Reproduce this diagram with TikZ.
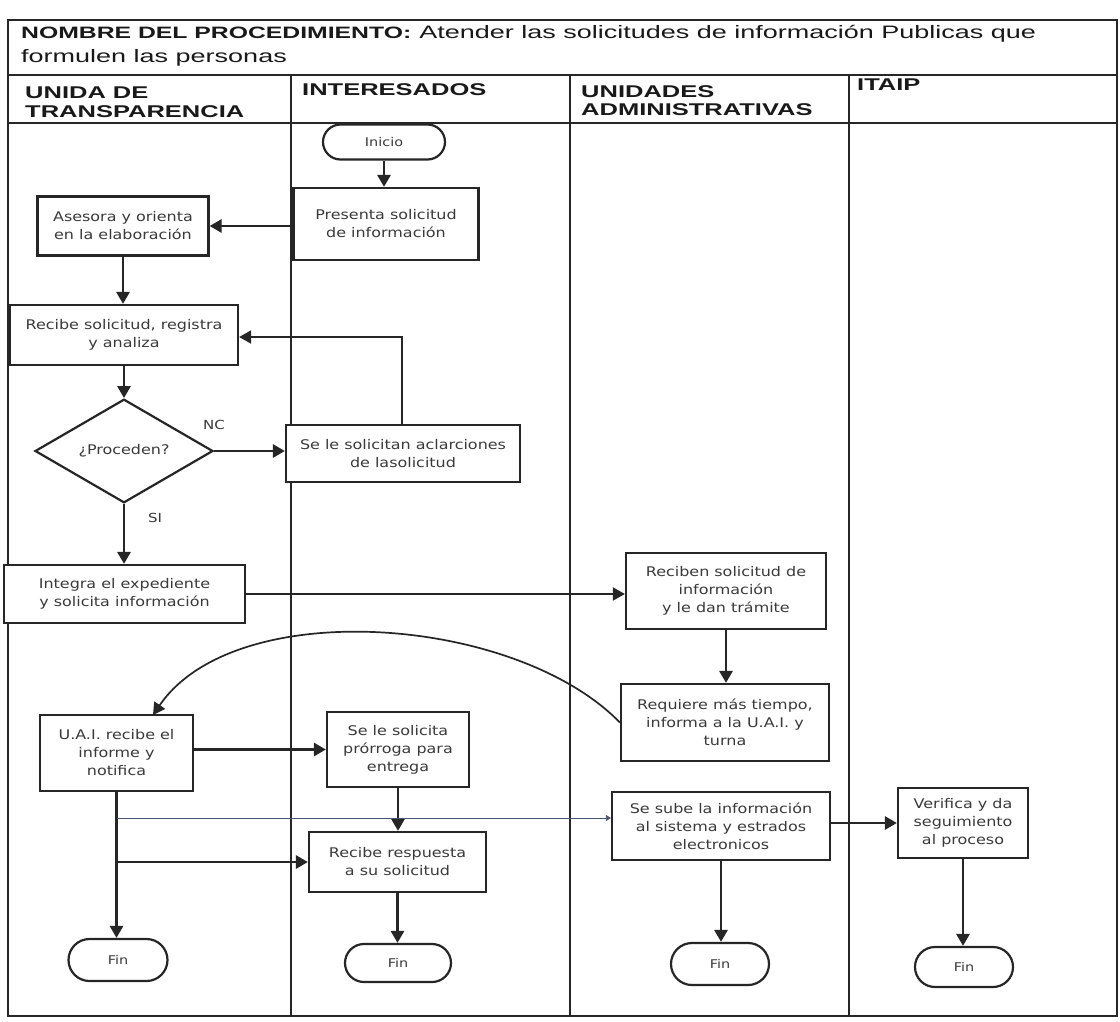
\documentclass[tikz,border=0pt]{standalone}
\usepackage{fontspec}
\setmainfont{DejaVu Sans}
\newfontfamily\hdrfont[FakeStretch=1.5]{Liberation Sans}
\newfontfamily\boxfont[FakeStretch=1.2]{DejaVu Sans}
\usetikzlibrary{shapes.geometric,shapes.misc,arrows.meta}
\definecolor{ink}{HTML}{262626}
\definecolor{txt}{HTML}{3A3A3A}
\definecolor{thinc}{HTML}{4A5570}
\begin{document}
\begin{tikzpicture}[x=1pt,y=-1pt,
  proc/.style={draw=ink, line width=2.2pt, fill=white, inner sep=0pt, align=center,
    font=\boxfont\fontsize{13.3}{18}\selectfont, text=txt},
  term/.style={proc, rounded rectangle, rounded rectangle arc length=180},
  dec/.style={proc, diamond},
  flow/.style={draw=ink, line width=2.8pt, -{Triangle[length=12pt,width=13pt]}},
  flowmid/.style={draw=ink, line width=1.8pt, -{Triangle[length=12pt,width=13pt]}},
  thinflow/.style={draw=thinc, line width=0.8pt, -{Triangle[length=5pt,width=6pt]}},
  lane/.style={draw=ink, line width=1.7pt},
  hdr/.style={anchor=base west, inner sep=0pt, text=black!90,
    font=\hdrfont\bfseries\fontsize{17}{20}\selectfont},
  lbl/.style={inner sep=0pt, text=txt, font=\boxfont\fontsize{12.5}{14}\selectfont}]
\useasboundingbox (0,0) rectangle (1120,1021);
\fill[white] (0,0) rectangle (1120,1021);

% frame and lanes
\draw[lane, line width=2.2pt] (8,20) rectangle (1117,1016);
\draw[lane] (8,75) -- (1117,75);
\draw[lane] (8,123) -- (1117,123);
\draw[lane] (291,75) -- (291,1016);
\draw[lane] (570,75) -- (570,1016);
\draw[lane] (849,75) -- (849,1016);

% title
\node[anchor=base west, inner sep=0pt, text=black!90, font=\hdrfont\fontsize{18}{21}\selectfont] (title1) at (21,38)
  {{\bfseries\fontsize{16.5}{19}\selectfont NOMBRE DEL PROCEDIMIENTO:}\hspace{8pt}Atender las solicitudes de información Publicas que};
\node[anchor=base west, inner sep=0pt, text=black!90, font=\hdrfont\fontsize{18}{21}\selectfont] (title2) at (21,62)
  {formulen las personas};

% lane headers
\node[hdr] (h1a) at (25,98) {UNIDA DE};
\node[hdr] (h1b) at (25,117) {TRANSPARENCIA};
\node[hdr] (h2) at (302,95) {INTERESADOS};
\node[hdr] (h3a) at (581,97) {UNIDADES};
\node[hdr] (h3b) at (581,115) {ADMINISTRATIVAS};
\node[hdr] (h4) at (857,90) {ITAIP};

% nodes
\node[term, minimum width=122, minimum height=35, font=\boxfont\fontsize{12}{14}\selectfont] (inicio) at (384,142) {Inicio};
\node[proc, minimum width=185, minimum height=72] (pres) at (386,224) {Presenta solicitud\\de información};
\node[proc, minimum width=171, minimum height=59] (ase) at (123,226) {Asesora y orienta\\en la elaboración};
\node[proc, minimum width=228, minimum height=60] (rec) at (124,335) {Recibe solicitud, registra\\y analiza};
\node[dec, minimum width=178, minimum height=88] (proc) at (124,451) {¿Proceden?};
\node[proc, minimum width=234, minimum height=57] (acl) at (403,453.5) {Se le solicitan aclarciones\\de lasolicitud};
\node[proc, minimum width=241, minimum height=58] (integ) at (124.5,594) {Integra el expediente\\y solicita información};
\node[proc, minimum width=200, minimum height=76] (recib) at (726,591) {Reciben solicitud de\\información\\y le dan trámite};
\node[proc, minimum width=208, minimum height=77] (req) at (725,722.5) {Requiere más tiempo,\\informa a la U.A.I. y\\turna};
\node[proc, minimum width=153, minimum height=76] (uai) at (116.5,753) {U.A.I. recibe el\\informe y\\notifica};
\node[proc, minimum width=142, minimum height=75] (pror) at (398,749.5) {Se le solicita\\prórroga para\\entrega};
\node[proc, minimum width=177, minimum height=60] (resp) at (397.5,862) {Recibe respuesta\\a su solicitud};
\node[proc, minimum width=218, minimum height=68] (sube) at (721,826) {Se sube la información\\al sistema y estrados\\electronicos};
\node[proc, minimum width=130, minimum height=70] (verif) at (963,823) {Verifica y da\\seguimiento\\al proceso};
\node[term, minimum width=99, minimum height=42, font=\boxfont\fontsize{12}{14}\selectfont] (fin1) at (118,960) {Fin};
\node[term, minimum width=106, minimum height=38, font=\boxfont\fontsize{12}{14}\selectfont] (fin2) at (398,963) {Fin};
\node[term, minimum width=98, minimum height=42, font=\boxfont\fontsize{12}{14}\selectfont] (fin3) at (720,964) {Fin};
\node[term, minimum width=98, minimum height=40, font=\boxfont\fontsize{12}{14}\selectfont] (fin4) at (964,967) {Fin};

% labels
\node[lbl] (nc) at (214,425) {NC};
\node[lbl] (si) at (155,518) {SI};

% connectors
\draw[flow] (inicio.south) -- (inicio.south |- pres.north);
\draw[flow] (pres.west |- ase.east) -- (ase.east);
\draw[flow] (ase.south) -- (ase.south |- rec.north);
\draw[flow] (rec.south) -- (proc.north);
\draw[flow] (proc.east) -- (acl.west |- proc.east);
\coordinate (fb) at (402,337);
\draw[flowmid] (fb |- acl.north) -- (fb) -- (fb -| rec.east);
\draw[flow] (proc.south) -- (proc.south |- integ.north);
\draw[flowmid] (integ.east) -- (integ.east -| recib.west);
\draw[flow] (recib.south) -- (recib.south |- req.north);
\coordinate (cv) at (153,715);
\draw[draw=ink, line width=1.7pt, -{Triangle[length=12pt,width=13pt]}]
  (req.west) .. controls (515,615) and (235,595) .. (cv);
\draw[flow] (uai.east |- pror.west) -- (pror.west);
\draw[flow] (pror.south) -- (pror.south |- resp.north);
\coordinate (st1) at (116.5,818);
\coordinate (st2) at (116.5,862);
\draw[flow] (uai.south) -- (uai.south |- fin1.north);
\draw[thinflow] (st1) -- (st1 -| sube.west);
\draw[flow] (st2) -- (resp.west);
\draw[flow] (resp.south) -- (resp.south |- fin2.north);
\draw[flow] (sube.east |- verif.west) -- (verif.west);
\draw[flow] (sube.south) -- (sube.south |- fin3.north);
\draw[flow] (verif.south) -- (verif.south |- fin4.north);
\end{tikzpicture}
\end{document}
